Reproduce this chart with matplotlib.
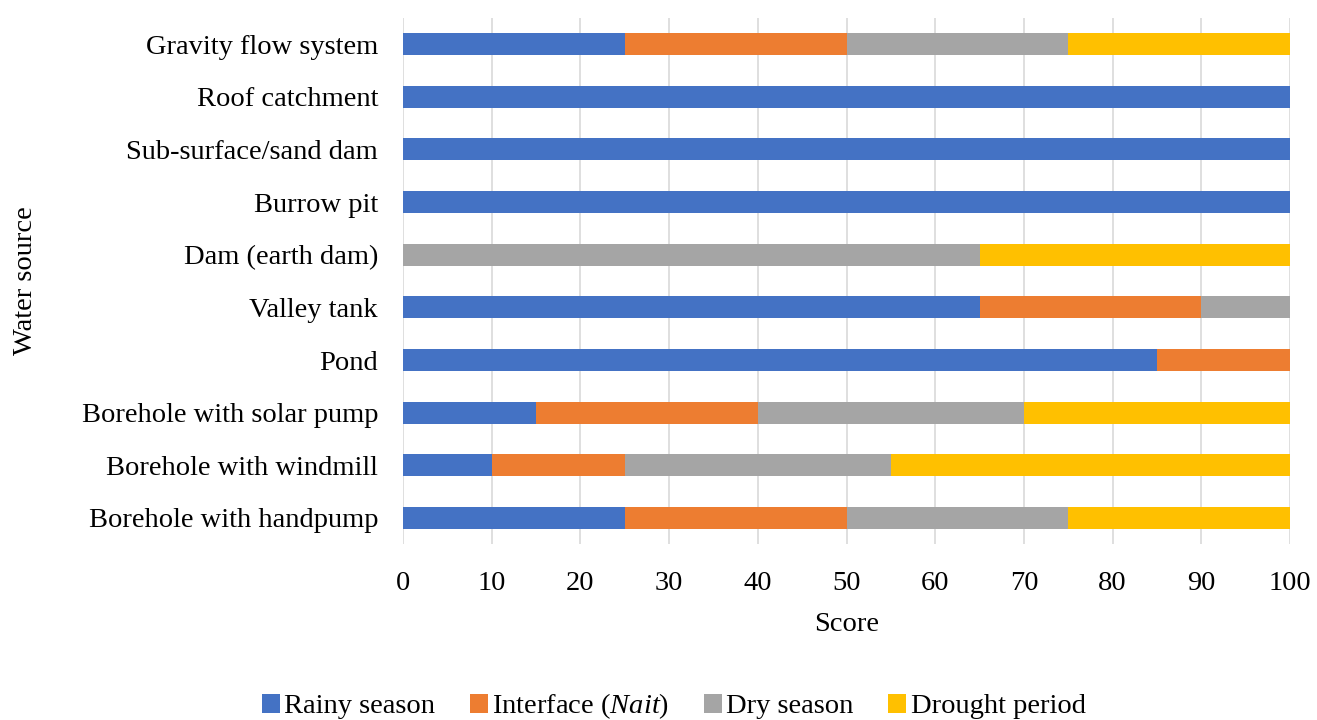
import matplotlib
matplotlib.use("Agg")
import matplotlib.pyplot as plt
import numpy as np

plt.rcParams['font.family'] = ['Liberation Serif', 'DejaVu Serif']
plt.rcParams['mathtext.fontset'] = 'custom'
plt.rcParams['mathtext.rm'] = 'Liberation Serif'
plt.rcParams['mathtext.it'] = 'Liberation Serif:italic'

categories = ["Borehole with handpump", "Borehole with windmill", "Borehole with solar pump",
              "Pond", "Valley tank", "Dam (earth dam)", "Burrow pit",
              "Sub-surface/sand dam", "Roof catchment", "Gravity flow system"]
rainy = [25, 10, 15, 85, 65, 0, 100, 100, 100, 25]
interface = [25, 15, 25, 15, 25, 0, 0, 0, 0, 25]
dry = [25, 30, 30, 0, 10, 65, 0, 0, 0, 25]
drought = [25, 45, 30, 0, 0, 35, 0, 0, 0, 25]

series = [("Rainy season", rainy, "#4472C4"),
          ("Interface ($\\it{Nait}$)", interface, "#ED7D31"),
          ("Dry season", dry, "#A5A5A5"),
          ("Drought period", drought, "#FFC000")]

FS = 20.5
AX_L, AX_B, AX_W, AX_H = 0.306, 0.244, 0.6735, 0.7314

fig = plt.figure(figsize=(13.17, 7.2), dpi=100)
ax = fig.add_axes([AX_L, AX_B, AX_W, AX_H])

y = np.arange(len(categories))
left = np.zeros(len(categories))
for name, vals, col in series:
    vals = np.array(vals, dtype=float)
    ax.barh(y, vals, left=left, height=0.42, color=col, label=name, zorder=3)
    left += vals

ax.set_xlim(0, 100)
ax.set_ylim(-0.5, len(categories) - 0.5)
ax.set_yticks(y)
ax.set_yticklabels(categories, fontsize=FS)
ax.set_xticks(np.arange(0, 101, 10))
ax.tick_params(axis='x', labelsize=FS, length=0, pad=19)
ax.tick_params(axis='y', length=0, pad=18)
ax.grid(axis='x', color='#D9D9D9', linewidth=1.2, zorder=0)
for s in ax.spines.values():
    s.set_visible(False)
ax.set_xlabel("Score", fontsize=FS, labelpad=12)
ax.set_ylabel("Water source", fontsize=FS)
ax.yaxis.set_label_coords((38 / 1317 - AX_L) / AX_W, 0.5)

leg = fig.legend(loc='lower center', bbox_to_anchor=(0.5115, -0.037), ncol=4, frameon=False,
                 fontsize=FS, handlelength=0.65, handleheight=0.65, handletextpad=0.15,
                 columnspacing=1.2)

fig.savefig("out.png", dpi=100)
